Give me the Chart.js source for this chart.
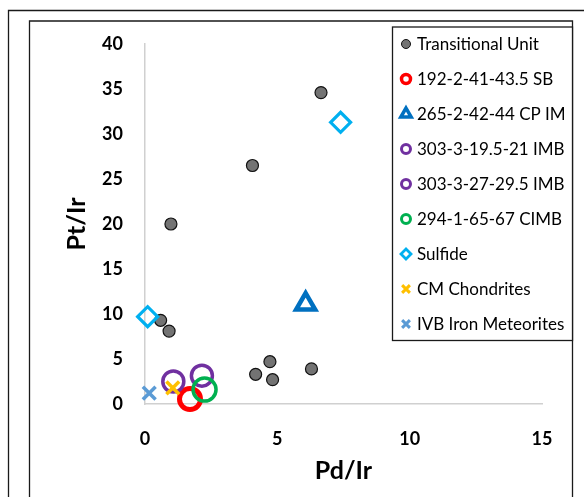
<!DOCTYPE html>
<html>
<head>
<meta charset="utf-8">
<script src="https://cdn.jsdelivr.net/npm/chart.js@4/dist/chart.umd.min.js"></script>
<style>
  html, body { margin: 0; padding: 0; background: #fff; }
  #wrap { position: relative; width: 584px; height: 497px; }
</style>
</head>
<body>
<div id="wrap"><canvas id="c" width="584" height="497"></canvas></div>
<script>
// ---- Data ----
const seriesNames = [
  "Transitional Unit",
  "192-2-41-43.5 SB",
  "265-2-42-44 CP IM",
  "303-3-19.5-21 IMB",
  "303-3-27-29.5 IMB",
  "294-1-65-67 CIMB",
  "Sulfide",
  "CM Chondrites",
  "IVB Iron Meteorites"
];
const transitionalX = [6.65, 4.06, 0.98, 0.59, 0.91, 4.18, 4.72, 4.82, 6.29];
const transitionalY = [34.6, 26.5, 20.0, 9.3, 8.1, 3.3, 4.7, 2.7, 3.9];
const sb192X = [1.7];
const sb192Y = [0.55];
const cpim265X = [6.07];
const cpim265Y = [11.1];
const imb303aX = [1.07];
const imb303aY = [2.5];
const imb303bX = [2.15];
const imb303bY = [3.15];
const cimb294X = [2.25];
const cimb294Y = [1.6];
const sulfideX = [0.1, 7.39];
const sulfideY = [9.7, 31.3];
const cmChondX = [1.05];
const cmChondY = [1.8];
const ivbX = [0.16];
const ivbY = [1.2];
const xTicks = [0, 5, 10, 15];
const yTicks = [0, 5, 10, 15, 20, 25, 30, 35, 40];

const pts = (xs, ys) => xs.map((x, i) => ({ x: x, y: ys[i] }));
const seriesData = [
  pts(transitionalX, transitionalY),
  pts(sb192X, sb192Y),
  pts(cpim265X, cpim265Y),
  pts(imb303aX, imb303aY),
  pts(imb303bX, imb303bY),
  pts(cimb294X, cimb294Y),
  pts(sulfideX, sulfideY),
  pts(cmChondX, cmChondY),
  pts(ivbX, ivbY)
];

// ---- Styles ----
const styles = [
  { pointStyle: 'circle',   radius: 6,    bg: '#737373', border: '#111111', bw: 1.2, lr: 4.5, lbw: 1 },
  { pointStyle: 'circle',   radius: 10.5, bg: 'rgba(0,0,0,0)', border: '#ff0000', bw: 5,   lr: 4.5, lbw: 3.5 },
  { pointStyle: 'triangle', radius: 11,   bg: '#ffffff', border: '#0070c0', bw: 4.5, lr: 6,   lbw: 3.5 },
  { pointStyle: 'circle',   radius: 10.5, bg: 'rgba(0,0,0,0)', border: '#7030a0', bw: 3.5, lr: 4.5, lbw: 3 },
  { pointStyle: 'circle',   radius: 10.5, bg: 'rgba(0,0,0,0)', border: '#7030a0', bw: 3.5, lr: 4.5, lbw: 3 },
  { pointStyle: 'circle',   radius: 11.5, bg: 'rgba(0,0,0,0)', border: '#00b050', bw: 3.5, lr: 4.5, lbw: 3 },
  { pointStyle: 'rectRot',  radius: 10,   bg: 'rgba(0,0,0,0)', border: '#00b0f0', bw: 3.2, lr: 5,   lbw: 2.8 },
  { pointStyle: 'crossRot', radius: 9,    bg: 'rgba(0,0,0,0)', border: '#ffc000', bw: 3.5, lr: 5.5, lbw: 3 },
  { pointStyle: 'crossRot', radius: 9,    bg: 'rgba(0,0,0,0)', border: '#5b9bd5', bw: 3.5, lr: 5.5, lbw: 3 }
];

const datasets = seriesNames.map((name, i) => ({
  label: name,
  data: seriesData[i],
  pointStyle: styles[i].pointStyle,
  pointRadius: styles[i].radius,
  pointHoverRadius: styles[i].radius,
  backgroundColor: styles[i].bg,
  borderColor: styles[i].border,
  pointBorderWidth: styles[i].bw,
  borderWidth: styles[i].bw,
  order: seriesNames.length - i,
  clip: false,
  showLine: false
}));

const FONT = 'Lato, "Open Sans", "DejaVu Sans", sans-serif';

// Frame borders
const framePlugin = {
  id: 'frame',
  beforeDraw(chart) {
    const ctx = chart.ctx;
    ctx.save();
    ctx.fillStyle = '#ffffff';
    ctx.fillRect(0, 0, chart.width, chart.height);
    ctx.strokeStyle = '#1a1a1a';
    ctx.lineWidth = 1.3;
    ctx.beginPath();
    ctx.moveTo(8.5, 600); ctx.lineTo(8.5, 10.5); ctx.lineTo(600, 10.5);
    ctx.moveTo(29.5, 600); ctx.lineTo(29.5, 21); ctx.lineTo(572.5, 21); ctx.lineTo(572.5, 600);
    ctx.stroke();
    ctx.restore();
  }
};

// Legend box (drawn from the dataset styles)
const legendPlugin = {
  id: 'boxLegend',
  afterDraw(chart) {
    const ctx = chart.ctx;
    ctx.save();
    const left = 392.5, top = 27, right = 572.5, bottom = 340.5;
    ctx.fillStyle = '#ffffff';
    ctx.fillRect(left, top, right - left, bottom - top);
    ctx.strokeStyle = '#1a1a1a';
    ctx.lineWidth = 1.3;
    ctx.strokeRect(left, top, right - left, bottom - top);
    const y0 = 44, step = 35;
    ctx.font = '17px ' + FONT;
    ctx.textBaseline = 'middle';
    ctx.textAlign = 'left';
    chart.data.datasets.forEach((ds, i) => {
      const y = y0 + i * step;
      const st = styles[i];
      ctx.save();
      ctx.strokeStyle = ds.borderColor;
      ctx.lineWidth = st.lbw;
      ctx.fillStyle = (st.pointStyle === 'circle' && i > 0) ? '#ffffff' : ds.backgroundColor;
      Chart.helpers.drawPoint(ctx, {
        pointStyle: st.pointStyle,
        radius: st.lr,
        rotation: 0,
        borderWidth: st.lbw
      }, 406, y);
      ctx.restore();
      ctx.fillStyle = '#000000';
      ctx.fillText(ds.label, 417, y + 1);
    });
    ctx.restore();
  }
};

new Chart(document.getElementById('c'), {
  type: 'scatter',
  data: { datasets: datasets },
  options: {
    responsive: false,
    animation: false,
    events: [],
    layout: { padding: { left: 0, top: 44, right: 42, bottom: 0 } },
    plugins: {
      legend: { display: false },
      tooltip: { enabled: false }
    },
    scales: {
      x: {
        type: 'linear',
        min: 0, max: 15,
        afterBuildTicks(scale) { scale.ticks = xTicks.map(v => ({ value: v })); },
        afterFit(scale) { scale.height = 93; },
        grid: { display: false, drawTicks: false },
        border: { display: true, color: '#d0d0d0', width: 1.5 },
        ticks: {
          color: '#000000',
          padding: 24,
          font: { family: FONT, size: 18, weight: 'bold' }
        },
        title: {
          display: true,
          text: 'Pd/Ir',
          color: '#000000',
          font: { family: FONT, size: 25, weight: 'bold' },
          padding: { top: 0, bottom: 11 }
        }
      },
      y: {
        type: 'linear',
        min: 0, max: 40,
        afterBuildTicks(scale) { scale.ticks = yTicks.map(v => ({ value: v })); },
        afterFit(scale) { scale.width = 145; },
        grid: { display: false, drawTicks: false },
        border: { display: true, color: '#d0d0d0', width: 1.5 },
        ticks: {
          color: '#000000',
          padding: 22,
          font: { family: FONT, size: 18, weight: 'bold' }
        },
        title: {
          display: true,
          text: 'Pt/Ir',
          color: '#000000',
          font: { family: FONT, size: 25, weight: 'bold' },
          padding: { top: 62, bottom: 0 }
        }
      }
    }
  },
  plugins: [framePlugin, legendPlugin]
});
</script>
</body>
</html>
